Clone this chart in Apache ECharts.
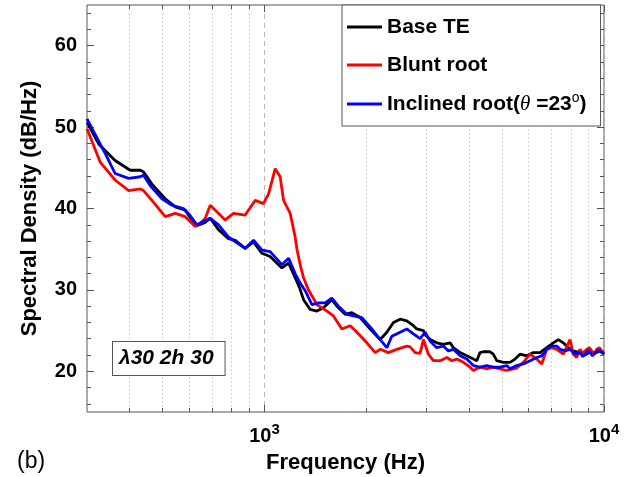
<!DOCTYPE html>
<html>
<head>
<meta charset="utf-8">
<script src="https://cdn.jsdelivr.net/npm/echarts@6/dist/echarts.min.js"></script>
<style>
html,body{margin:0;padding:0;background:#fff;}
#chart{width:629px;height:477px;}
</style>
</head>
<body>
<div id="chart"></div>
<script>
// ---- Data (frequency in Hz, spectral density in dB/Hz) ----
const seriesNames = ['Base TE', 'Blunt root', 'Inclined root(θ =23°)'];

const baseFreq = [300,325,363,402,431,440,466,510,546,584,611,632,669,692,732,783,820,877,928,982,1039,1125,1177,1231,1270,1303,1363,1427,1492,1579,1634,1728,1808,1913,2047,2191,2293,2397,2509,2625,2745,2809,2938,2972,3075,3217,3364,3521,3600,3768,3942,4123,4219,4314,4411,4616,4720,4831,5054,5288,5470,5658,5921,6193,6480,6781,7092,7337,7589,7851,8121,8498,8790,9095,9408,9700,10000];
const baseVal  = [50.6,47.9,45.9,44.7,44.7,44.5,43.0,41.2,40.2,39.8,38.6,37.9,38.3,38.8,37.4,36.3,36.1,35.1,35.9,34.5,34.1,32.7,33.3,31.5,30.2,28.8,27.6,27.4,27.8,28.8,28.0,27.0,27.2,26.6,25.2,23.9,24.8,26.0,26.4,26.2,25.6,25.2,25.0,24.5,23.9,23.5,23.3,23.5,22.9,22.3,21.9,21.5,21.3,22.3,22.4,22.4,22.1,21.3,21.1,21.1,21.5,22.1,21.9,22.3,22.3,22.9,23.5,23.9,23.5,22.9,22.5,22.3,22.0,22.4,22.2,22.5,22.1];

const bluntFreq = [300,328,363,398,431,440,466,510,546,584,625,647,669,692,766,810,877,939,993,1028,1075,1112,1138,1190,1231,1246,1275,1303,1347,1427,1527,1596,1690,1788,1871,2002,2118,2191,2317,2453,2625,2685,2777,2873,2938,3039,3144,3290,3443,3562,3684,3853,4032,4123,4314,4514,4720,4941,5171,5288,5533,5786,6056,6337,6555,6781,7015,7258,7589,7941,8121,8310,8498,8650,8894,9050,9200,9350,9517,9700,9845,10000];
const bluntVal  = [49.8,45.7,43.5,42.2,42.4,42.2,41.0,39.0,39.4,39.0,37.8,38.2,38.8,40.4,38.6,39.4,39.2,41.0,40.6,41.8,44.9,43.9,41.0,39.4,36.5,35.0,33.0,31.5,30.0,28.2,27.4,26.8,25.2,25.6,24.8,23.5,22.3,22.7,22.3,22.7,23.1,23.0,22.3,22.2,23.9,22.1,21.3,21.3,21.7,21.3,21.5,21.1,20.5,20.1,20.5,20.3,20.5,20.3,20.1,20.2,20.4,21.1,22.1,21.5,20.9,22.7,22.9,22.7,22.1,23.9,22.1,21.7,22.7,22.2,22.7,22.9,22.5,22.1,22.7,22.9,22.5,22.4];

const inclFreq = [300,317,340,363,398,431,440,461,499,534,577,597,632,692,732,783,877,928,982,1039,1125,1177,1231,1275,1318,1379,1442,1509,1579,1651,1748,1828,1935,2071,2191,2293,2371,2509,2625,2745,2873,2972,3075,3217,3364,3480,3600,3768,3942,4123,4314,4514,4720,4941,5171,5288,5533,5786,6056,6337,6555,6781,7015,7258,7422,7677,7941,8215,8498,8650,8790,9000,9250,9408,9650,10000];
const inclVal  = [51.0,49.1,46.7,44.3,43.7,43.9,44.1,42.8,41.2,40.4,40.0,39.4,38.0,38.8,38.0,36.5,35.1,36.1,34.9,34.7,33.1,33.9,32.0,30.8,29.9,28.2,28.4,28.4,29.0,28.0,27.0,26.8,26.6,25.2,23.9,22.9,24.3,24.8,25.2,24.6,24.0,24.8,23.7,22.9,23.1,22.5,22.7,21.9,21.5,20.7,20.5,20.7,20.5,20.5,20.7,20.3,20.7,20.9,21.3,21.7,21.9,22.7,23.1,23.1,22.7,22.5,22.7,22.1,22.3,21.8,22.1,22.6,21.9,22.3,22.6,22.2];

const seriesColors = ['#000000', '#ff0000', '#0000ff'];

// ---- Axis ticks ----
const xMin = 300, xMax = 10000;
const yMin = 15, yMax = 65;
const xMajorTicks = [1000, 10000];
const xMinorTicks = [400,500,600,700,800,900,2000,3000,4000,5000,6000,7000,8000,9000];
const yMajorTicks = [20,30,40,50,60];
const yMinorTicks = [16,18,22,24,26,28,32,34,36,38,42,44,46,48,52,54,56,58,62,64];

const zip = (xs, ys) => xs.map((x, i) => [x, ys[i]]);

const FONT = '"Liberation Sans", Arial, sans-serif';
const AXC = '#555555';

function xAxisDef(pos, ticks, len, opts) {
  return Object.assign({
    type: 'log', logBase: 10, min: xMin, max: xMax, position: pos,
    axisLine: {show: false},
    axisTick: {show: true, inside: true, length: len, customValues: ticks, lineStyle: {color: AXC, width: 1}},
    axisLabel: {show: false},
    splitLine: {show: false}
  }, opts || {});
}
function yAxisDef(pos, ticks, len, opts) {
  return Object.assign({
    type: 'value', min: yMin, max: yMax, position: pos,
    axisLine: {show: false},
    axisTick: {show: true, inside: true, length: len, customValues: ticks, lineStyle: {color: AXC, width: 1}},
    axisLabel: {show: false},
    splitLine: {show: false}
  }, opts || {});
}

const chart = echarts.init(document.getElementById('chart'), null, {renderer: 'canvas'});

const option = {
  animation: false,
  backgroundColor: '#ffffff',
  grid: {
    left: 87, right: 25, top: 5, bottom: 65,
    show: true, borderColor: AXC, borderWidth: 1, backgroundColor: '#ffffff',
    outerBoundsMode: 'none'
  },
  xAxis: [
    xAxisDef('bottom', xMajorTicks, 7, {
      axisLabel: {
        show: true, customValues: xMajorTicks, margin: 10,
        color: '#000', fontFamily: FONT, fontWeight: 'bold', fontSize: 20,
        formatter: v => '{b|10}{sup|' + Math.round(Math.log10(v)) + '}',
        rich: {
          b: {fontFamily: FONT, fontWeight: 'bold', fontSize: 20, color: '#000'},
          sup: {fontFamily: FONT, fontWeight: 'bold', fontSize: 15, color: '#000', padding: [0, 0, 13, 0]}
        }
      },
      splitLine: {show: true, lineStyle: {color: '#b8b8b8', type: [5, 4], width: 1}},
      name: 'Frequency (Hz)', nameLocation: 'middle', nameGap: 40, nameMoveOverlap: false,
      nameTextStyle: {fontFamily: FONT, fontWeight: 'bold', fontSize: 22, color: '#000'}
    }),
    xAxisDef('bottom', xMinorTicks, 4, {
      splitLine: {show: true, lineStyle: {color: '#d4d4d4', type: [2, 2], width: 1}}
    }),
    xAxisDef('top', xMajorTicks, 7),
    xAxisDef('top', xMinorTicks, 4)
  ],
  yAxis: [
    yAxisDef('left', yMajorTicks, 7, {
      axisLabel: {
        show: true, customValues: yMajorTicks, margin: 10,
        color: '#000', fontFamily: FONT, fontWeight: 'bold', fontSize: 20
      },
      name: 'Spectral Density (dB/Hz)', nameLocation: 'middle', nameGap: 46, nameRotate: 90, nameMoveOverlap: false,
      nameTextStyle: {fontFamily: FONT, fontWeight: 'bold', fontSize: 22, color: '#000'}
    }),
    yAxisDef('left', yMinorTicks, 4),
    yAxisDef('right', yMajorTicks, 7),
    yAxisDef('right', yMinorTicks, 4)
  ],
  legend: {
    orient: 'vertical', left: 342, top: 5,
    padding: [10, 14, 9, 5], itemGap: 14, itemWidth: 35, itemHeight: 3,
    icon: 'rect',
    backgroundColor: '#ffffff', borderColor: AXC, borderWidth: 1, borderRadius: 0,
    selectedMode: false,
    data: seriesNames,
    formatter: name => name.indexOf('θ') >= 0
      ? 'Inclined root({th|θ} =23{sup|o})'
      : name,
    textStyle: {
      fontFamily: FONT, fontWeight: 'bold', fontSize: 21, color: '#000', lineHeight: 24,
      rich: {
        th: {fontFamily: '"Liberation Serif", serif', fontStyle: 'italic', fontWeight: 'normal', fontSize: 21, color: '#000', lineHeight: 24},
        sup: {fontFamily: FONT, fontWeight: 'normal', fontSize: 14, color: '#000', lineHeight: 14, padding: [0, 0, 12, 0]}
      }
    }
  },
  graphic: [
    {
      type: 'text', left: 112, top: 341, z: 10,
      style: {
        text: 'λ30 2h 30',
        font: 'italic bold 21px "Liberation Sans", Arial, sans-serif',
        fill: '#000', backgroundColor: '#ffffff', borderColor: AXC, borderWidth: 1,
        padding: [6, 11, 6, 6]
      }
    },
    {
      type: 'text', left: 17, top: 450, z: 10,
      style: {text: '(b)', font: '23px "Liberation Sans", Arial, sans-serif', fill: '#000'}
    }
  ],
  series: [
    {name: seriesNames[0], data: zip(baseFreq, baseVal), color: seriesColors[0]},
    {name: seriesNames[1], data: zip(bluntFreq, bluntVal), color: seriesColors[1]},
    {name: seriesNames[2], data: zip(inclFreq, inclVal), color: seriesColors[2]}
  ].map(s => ({
    type: 'line', name: s.name, data: s.data, xAxisIndex: 0, yAxisIndex: 0,
    showSymbol: false, symbol: 'none', smooth: false,
    itemStyle: {color: s.color},
    lineStyle: {color: s.color, width: 2.8},
    emphasis: {disabled: true}
  }))
};

chart.setOption(option);
</script>
</body>
</html>
